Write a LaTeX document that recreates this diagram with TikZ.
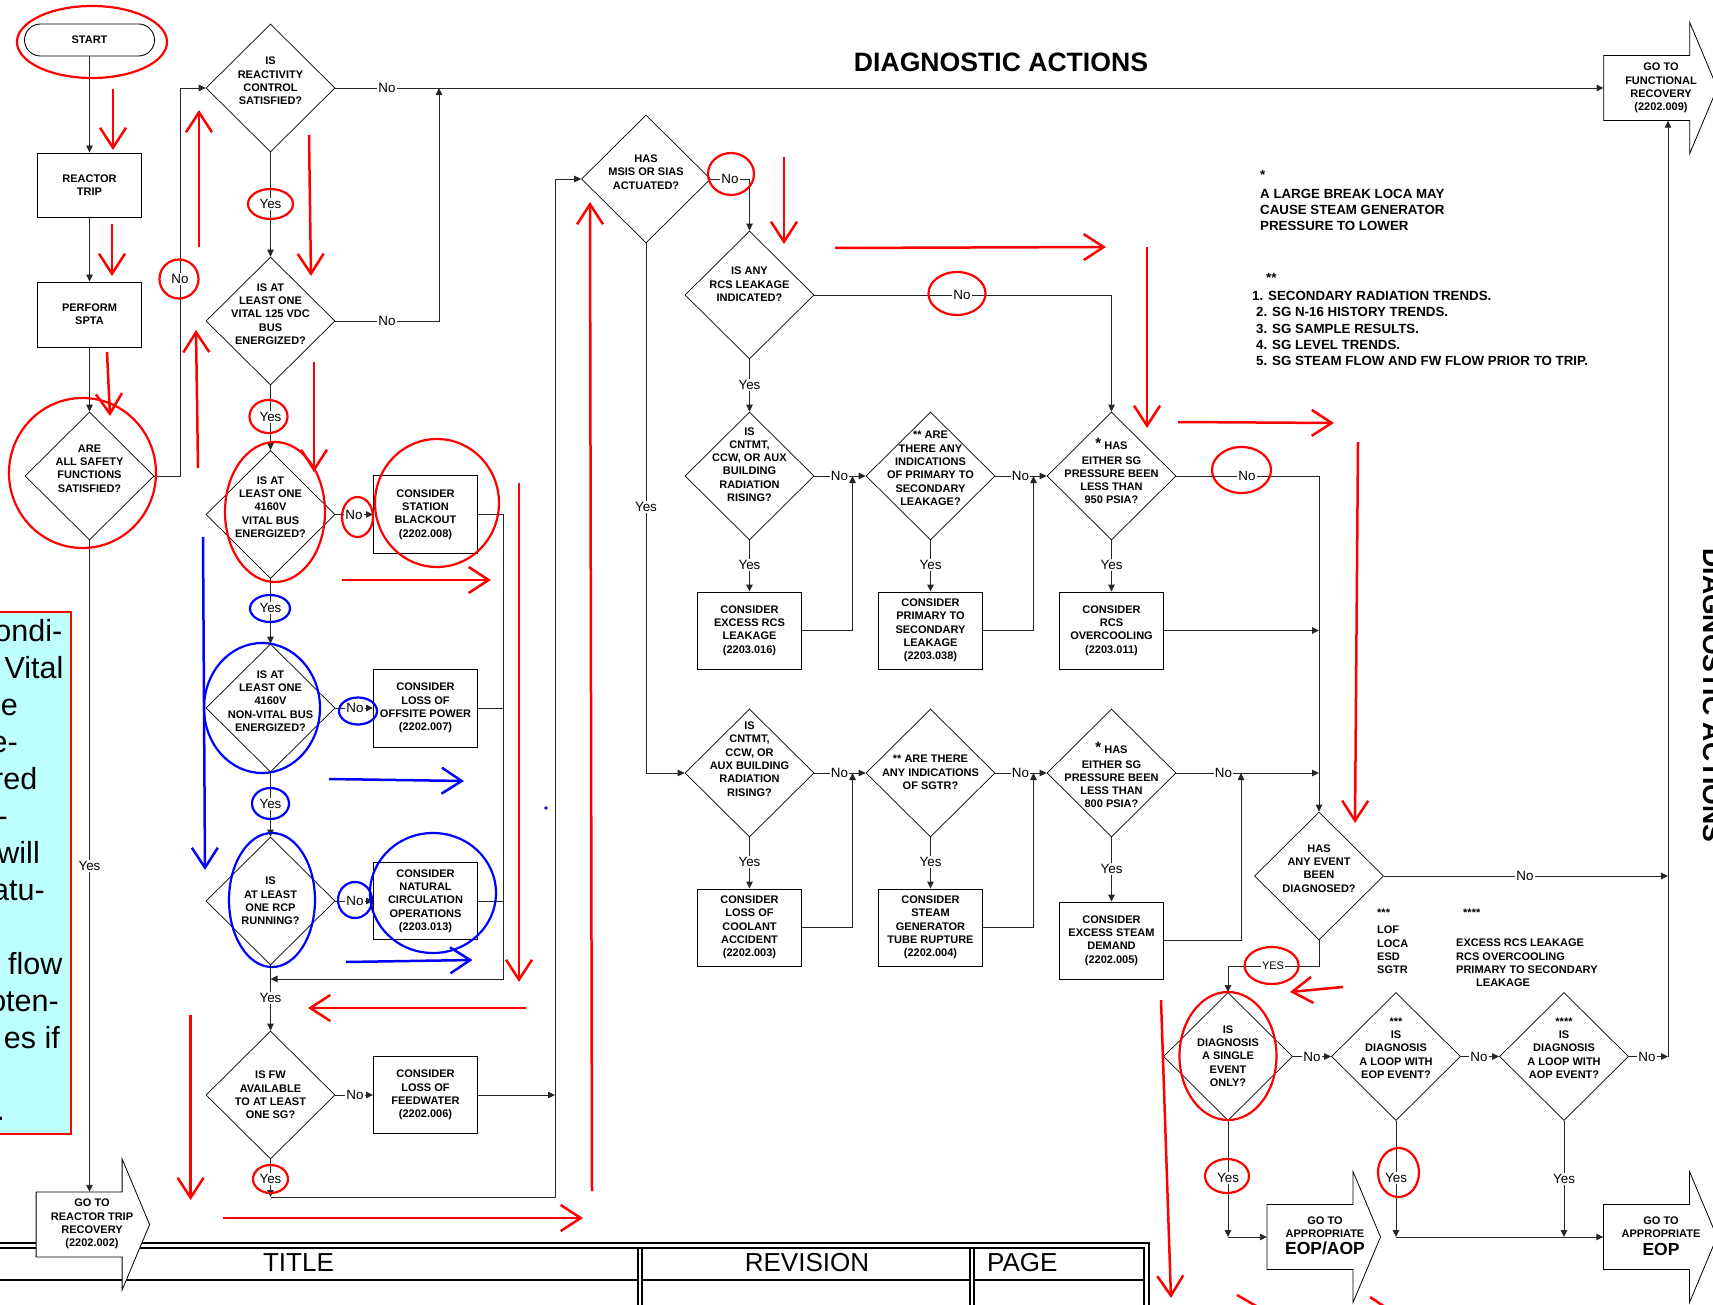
\documentclass[tikz,border=0pt]{standalone}
\usepackage{fontspec}
\setmainfont{Liberation Sans}
\usetikzlibrary{shapes.geometric,arrows.meta}
\newcommand\bxf{\fontsize{11}{13.3}\selectfont\bfseries}
\newcommand\lbf{\fontsize{13.4}{15}\selectfont}
\newcommand\ntf{\fontsize{13.3}{16.3}\selectfont\bfseries}
\newcommand\smf{\fontsize{11}{13.3}\selectfont\bfseries}
\newcommand\cyf{\fontsize{30.5}{37}\selectfont}
\newcommand\tbf{\fontsize{26}{30}\selectfont}
\newcommand\bigstar{\raisebox{1.5pt}{\fontsize{15}{15}\selectfont *}}
\definecolor{cyanbg}{RGB}{190,255,255}
\newcommand\goshape[3]{%
  \path[draw=black, fill=white, line width=0.8pt] ({#2-43},{#3-32.5}) -- ({#2+43},{#3-32.5}) -- ({#2+43},{#3-65.5}) -- ({#2+70.5},{#3}) -- ({#2+43},{#3+65.5}) -- ({#2+43},{#3+32.5}) -- ({#2-43},{#3+32.5}) -- cycle;
  \node[inner sep=0pt, minimum width=86pt, minimum height=65pt] (#1) at (#2,#3) {};
}
\begin{document}
\begin{tikzpicture}[x=1pt,y=-1pt,
  box/.style={draw=black, line width=0.9pt, fill=white, minimum width=104pt, minimum height=77pt, inner sep=0pt, align=center, font=\bxf},
  dia/.style={draw=black, diamond, line width=0.7pt, minimum width=129pt, minimum height=128pt, inner sep=0pt},
  dtx/.style={align=center, font=\bxf, inner sep=0pt},
  lab/.style={fill=white, inner sep=1pt, font=\lbf},
  con/.style={draw=black!85, line width=0.9pt},
  arr/.style={con, -{Triangle[length=7pt,width=6.5pt]}},
  rarr/.style={draw=red, line width=2.5pt, -{Straight Barb[length=20pt,width=26pt]}},
  barr/.style={draw=blue, line width=2.5pt, -{Straight Barb[length=20pt,width=26pt]}},
  rring/.style={draw=red, line width=2.2pt},
  bring/.style={draw=blue, line width=2.2pt},
  gotx/.style={align=center, font=\bxf, inner sep=0pt},
  note/.style={align=left, font=\ntf, inner sep=0pt, anchor=west},
  snote/.style={align=left, font=\smf, inner sep=0pt, anchor=west},
  tbl/.style={line width=1.3pt},
  cyt/.style={font=\cyf, inner sep=0pt, anchor=mid east}
]
\useasboundingbox (0,0) rectangle (1713,1305);

% ---------- cyan note box ----------
\path[fill=cyanbg, draw=red, line width=2.2pt] (-10,612) rectangle (71,1134);
\node[cyt] (c01) at (62.5,639) {ondi-};
\node[cyt] (c02) at (63.6,676) {Vital};
\node[cyt] (c03) at (18,713) {ne};
\node[cyt] (c04) at (18,750) {e-};
\node[cyt] (c05) at (37.5,787) {red};
\node[cyt] (c06) at (8,824) {-};
\node[cyt] (c07) at (40,861) {will};
\node[cyt] (c08) at (45,898) {atu-};
\node[cyt] (c10) at (62.5,972) {flow};
\node[cyt] (c11) at (59,1009) {oten-};
\node[cyt] (c12) at (60,1046) {es if};
\node[cyt] (c14) at (5,1118) {.};

% ---------- title table ----------
\draw[tbl] (-5,1243) -- (1149,1243) -- (1149,1310);
\draw[tbl] (-5,1248) -- (1144,1248) -- (1144,1310);
\draw[tbl] (638,1248) -- (638,1310);
\draw[tbl] (642,1248) -- (642,1310);
\draw[tbl] (970,1248) -- (970,1310);
\draw[tbl] (974,1248) -- (974,1310);
\draw[tbl] (-5,1280) -- (638,1280);
\draw[tbl] (642,1280) -- (970,1280);
\draw[tbl] (974,1280) -- (1144,1280);
\node[font=\tbf, inner sep=0pt] (ttl) at (298.5,1263) {TITLE};
\node[font=\tbf, inner sep=0pt] (rev) at (807,1263) {REVISION};
\node[font=\tbf, inner sep=0pt, anchor=west] (pag) at (987,1263) {PAGE};

% ---------- headings ----------
\node[font=\fontsize{26.6}{30}\selectfont\bfseries, inner sep=0pt] (hd) at (1001,62) {DIAGNOSTIC ACTIONS};
\node[font=\fontsize{26.6}{30}\selectfont\bfseries, inner sep=0pt, rotate=-90, anchor=base] (vhd) at (1703,695.5) {DIAGNOSTIC ACTIONS};

% ---------- notes ----------
\node[note] (n1s) at (1260,175) {*};
\node[note] (n1) at (1260,210) {A LARGE BREAK LOCA MAY\\CAUSE STEAM GENERATOR\\PRESSURE TO LOWER};
\node[note] (n2s) at (1266,278) {**};
\node[note] (n2) at (1252,328.5) {1. SECONDARY RADIATION TRENDS.\\\hspace*{4pt}2. SG N-16 HISTORY TRENDS.\\\hspace*{4pt}3. SG SAMPLE RESULTS.\\\hspace*{4pt}4. SG LEVEL TRENDS.\\\hspace*{4pt}5. SG STEAM FLOW AND FW FLOW PRIOR TO TRIP.};
\node[snote] (n3s) at (1377,913) {***};
\node[snote] (n3) at (1377,950) {LOF\\LOCA\\ESD\\SGTR};
\node[snote] (n4s) at (1463,913) {****};
\node[snote] (n4) at (1456,963) {EXCESS RCS LEAKAGE\\RCS OVERCOOLING\\PRIMARY TO SECONDARY\\\hspace*{20pt}LEAKAGE};

% ---------- go-to arrows ----------
\goshape{rtr}{79.1}{1224.5}
\node[gotx] (rtrt) at (92,1224) {GO TO\\REACTOR TRIP\\RECOVERY\\(2202.002)};
\goshape{fr}{1646.75}{88}
\node[gotx] (frt) at (1661,88) {GO TO\\FUNCTIONAL\\RECOVERY\\(2202.009)};
\goshape{ea}{1310}{1237}
\node[gotx] (eat) at (1325,1236) {GO TO\\APPROPRIATE\\[4pt]{\fontsize{17.5}{18}\selectfont EOP/AOP}};
\goshape{eop}{1646.5}{1237}
\node[gotx] (eopt) at (1661,1236) {GO TO\\APPROPRIATE\\[4pt]{\fontsize{17.5}{18}\selectfont EOP}};

% ---------- left column ----------
\node[draw=black, line width=0.9pt, rounded corners=16pt, minimum width=130pt, minimum height=32pt, font=\bxf, inner sep=0pt] (st) at (89.5,40) {START};
\node[box, minimum height=64pt] (rt) at (89.5,185) {REACTOR\\TRIP};
\node[box, minimum height=65pt] (sp) at (89.5,314.5) {PERFORM\\SPTA};
\node[dia] (sf) at (89.5,476) {};
\node[dtx] (sft) at (89.5,468.5) {ARE\\ALL SAFETY\\FUNCTIONS\\SATISFIED?};

% ---------- second column ----------
\node[dia] (d1) at (270.5,88) {};
\node[dtx] (d1t) at (270.5,81) {IS\\REACTIVITY\\CONTROL\\SATISFIED?};
\node[dia] (d2) at (270.5,321) {};
\node[dtx] (d2t) at (270.5,314) {IS AT\\LEAST ONE\\VITAL 125 VDC\\BUS\\ENERGIZED?};
\node[dia] (d3) at (270.5,514.5) {};
\node[dtx] (d3t) at (270.5,507) {IS AT\\LEAST ONE\\4160V\\VITAL BUS\\ENERGIZED?};
\node[dia] (d4) at (270.5,708) {};
\node[dtx] (d4t) at (270.5,701) {IS AT\\LEAST ONE\\4160V\\NON-VITAL BUS\\ENERGIZED?};
\node[dia] (d5) at (270.5,901) {};
\node[dtx] (d5t) at (270.5,901) {IS\\AT LEAST\\ONE RCP\\RUNNING?};
\node[dia] (d6) at (270.5,1095) {};
\node[dtx] (d6t) at (270.5,1095) {IS FW\\AVAILABLE\\TO AT LEAST\\ONE SG?};
\node[box, minimum height=78pt] (sbo) at (425.5,514.5) {CONSIDER\\STATION\\BLACKOUT\\(2202.008)};
\node[box, minimum height=78pt] (lop) at (425.5,708) {CONSIDER\\LOSS OF\\OFFSITE POWER\\(2202.007)};
\node[box] (nc) at (425.5,901) {CONSIDER\\NATURAL\\CIRCULATION\\OPERATIONS\\(2203.013)};
\node[box] (lfw) at (425.5,1095) {CONSIDER\\LOSS OF\\FEEDWATER\\(2202.006)};

% ---------- diagnostic block ----------
\node[dia] (msis) at (646,179) {};
\node[dtx] (msist) at (646,172) {HAS\\MSIS OR SIAS\\ACTUATED?};
\node[dia] (rcs) at (749.5,295) {};
\node[dtx] (rcst) at (749.5,284.5) {IS ANY\\RCS LEAKAGE\\INDICATED?};
\node[dia] (c1) at (749.5,476) {};
\node[dtx] (c1t) at (749.5,464.5) {IS\\CNTMT,\\CCW, OR AUX\\BUILDING\\RADIATION\\RISING?};
\node[dia] (pr) at (930.5,476) {};
\node[dtx] (prt) at (930.5,468.5) {** ARE\\THERE ANY\\INDICATIONS\\OF PRIMARY TO\\SECONDARY\\LEAKAGE?};
\node[dia] (p9) at (1111.5,476) {};
\node[dtx] (p9t) at (1111.5,471) {\bigstar\ HAS\\[1pt]EITHER SG\\PRESSURE BEEN\\LESS THAN\\950 PSIA?};
\node[box] (b1) at (749.5,630.5) {CONSIDER\\EXCESS RCS\\LEAKAGE\\(2203.016)};
\node[box] (b2) at (930.5,630.5) {CONSIDER\\PRIMARY TO\\SECONDARY\\LEAKAGE\\(2203.038)};
\node[box] (b3) at (1111.5,630.5) {CONSIDER\\RCS\\OVERCOOLING\\(2203.011)};
\node[dia] (c2) at (749.5,773) {};
\node[dtx] (c2t) at (749.5,759) {IS\\CNTMT,\\CCW, OR\\AUX BUILDING\\RADIATION\\RISING?};
\node[dia] (sg) at (930.5,773) {};
\node[dtx] (sgt) at (930.5,772.5) {** ARE THERE\\ANY INDICATIONS\\OF SGTR?};
\node[dia] (p8) at (1111.5,773) {};
\node[dtx] (p8t) at (1111.5,775) {\bigstar\ HAS\\[1pt]EITHER SG\\PRESSURE BEEN\\LESS THAN\\800 PSIA?};
\node[box] (b4) at (749.5,927.5) {CONSIDER\\LOSS OF\\COOLANT\\ACCIDENT\\(2202.003)};
\node[box] (b5) at (930.5,927.5) {CONSIDER\\STEAM\\GENERATOR\\TUBE RUPTURE\\(2202.004)};
\node[box] (b6) at (1111.5,940.5) {CONSIDER\\EXCESS STEAM\\DEMAND\\(2202.005)};
\node[dia] (ae) at (1319,876) {};
\node[dtx] (aet) at (1319,868.5) {HAS\\ANY EVENT\\BEEN\\DIAGNOSED?};
\node[dia] (se) at (1228,1056.5) {};
\node[dtx] (set) at (1228,1056) {IS\\DIAGNOSIS\\A SINGLE\\EVENT\\ONLY?};
\node[dia] (le) at (1396,1056.5) {};
\node[dtx] (let) at (1396,1048) {***\\IS\\DIAGNOSIS\\A LOOP WITH\\EOP EVENT?};
\node[dia] (la) at (1564,1056.5) {};
\node[dtx] (lat) at (1564,1048) {****\\IS\\DIAGNOSIS\\A LOOP WITH\\AOP EVENT?};

% ---------- helper coordinates ----------
\coordinate (lv) at (180,476);
\coordinate (lt) at (180,88);
\coordinate (nv) at (439,321);
\coordinate (nt) at (439,88);
\coordinate (j0) at (503.5,514.5);
\coordinate (j1) at (503.5,979);
\coordinate (j1e) at (270.5,979);
\coordinate (fwc) at (270.5,1197);
\coordinate (bl) at (555,1197);
\coordinate (bt) at (555,179);
\coordinate (u1) at (852.5,476);
\coordinate (u2) at (1033.5,476);
\coordinate (u3) at (852.5,773);
\coordinate (u4) at (1033.5,773);
\coordinate (u5) at (1241,773);
\coordinate (ye) at (1319,966);
\coordinate (s1) at (1228,1237);
\coordinate (s2) at (1396,1237);
\coordinate (s3) at (1564,1237);
\coordinate (vr) at (1668,1056.5);

% ---------- connectors ----------
\draw[arr] (st) -- (rt);
\draw[arr] (rt) -- (sp);
\draw[arr] (sp) -- (sf);
\draw[arr] (sf.south) -- (sf.south |- rtr.north);
\draw[arr] (sf.east) -- (lv) -- (lt) -- (d1.west);
\draw[arr] (d1.east) -- (fr.west);
\draw[arr] (d1) -- (d2);
\draw[arr] (d2.east) -- (nv) -- (nt);
\draw[arr] (d2) -- (d3);
\draw[arr] (d3) -- (sbo);
\draw[con] (sbo.east) -- (j0) -- (j1);
\draw[arr] (j1) -- (j1e);
\draw[arr] (d3) -- (d4);
\draw[arr] (d4) -- (lop);
\draw[con] (lop.east) -- (lop.east -| j1);
\draw[arr] (d4) -- (d5);
\draw[arr] (d5) -- (nc);
\draw[con] (nc.east) -- (nc.east -| j1);
\draw[arr] (d5) -- (d6);
\draw[arr] (d6) -- (lfw);
\draw[arr] (lfw.east) -- (lfw.east -| bl);
\draw[arr] (d6.south) -- (fwc);
\draw[arr] (fwc) -- (bl) -- (bt) -- (msis.west);
\draw[arr] (msis.east) -| (rcs.north);
\draw[arr] (msis.south) |- (c2.west);
\draw[arr] (rcs.east) -| (p9.north);
\draw[arr] (rcs) -- (c1);
\draw[arr] (c1) -- (pr);
\draw[arr] (c1) -- (b1);
\draw[arr] (b1.east) -| (u1);
\draw[arr] (pr) -- (p9);
\draw[arr] (pr) -- (b2);
\draw[arr] (b2.east) -| (u2);
\draw[arr] (p9.east) -| (ae.north);
\draw[arr] (p9) -- (b3);
\draw[arr] (b3.east) -- (b3.east -| ae.north);
\draw[arr] (c2) -- (sg);
\draw[arr] (c2) -- (b4);
\draw[arr] (b4.east) -| (u3);
\draw[arr] (sg) -- (p8);
\draw[arr] (sg) -- (b5);
\draw[arr] (b5.east) -| (u4);
\draw[arr] (p8.east) -- (p8.east -| ae.north);
\draw[arr] (p8) -- (b6);
\draw[arr] (b6.east) -| (u5);
\draw[arr] (ae.east) -- (ae.east -| vr);
\draw[arr] (ae.south) -- (ye) -| (se.north);
\draw[arr] (se) -- (le);
\draw[arr] (se.south) -- (s1);
\draw[arr] (s1) -- (s1 -| ea.west);
\draw[arr] (le) -- (la);
\draw[arr] (le.south) -- (s2);
\draw[arr] (s2) -- (s2 -| eop.west);
\draw[arr] (la.south) -- (s3);
\draw[arr] (la.east) -- (vr);
\draw[arr] (vr) -- (vr |- fr.south);

% ---------- labels ----------
\node[lab] (l01) at (387,88) {No};
\node[lab] (l02) at (270.5,204) {Yes};
\node[lab] (l03) at (180,279) {No};
\node[lab] (l04) at (387,321) {No};
\node[lab] (l05) at (270.5,417) {Yes};
\node[lab] (l06) at (354,514.5) {No};
\node[lab] (l07) at (270.5,608) {Yes};
\node[lab] (l08) at (355,708) {No};
\node[lab] (l09) at (270.5,804) {Yes};
\node[lab] (l10) at (355,901) {No};
\node[lab] (l11) at (270.5,998) {Yes};
\node[lab] (l12) at (355,1095) {No};
\node[lab] (l13) at (270.5,1179) {Yes};
\node[lab] (l14) at (89.5,866) {Yes};
\node[lab] (l15) at (730,179) {No};
\node[lab] (l16) at (646,507) {Yes};
\node[lab] (l17) at (962,295) {No};
\node[lab] (l18) at (749.5,385) {Yes};
\node[lab] (l19) at (839.5,476) {No};
\node[lab] (l20) at (749.5,565) {Yes};
\node[lab] (l21) at (1020.5,476) {No};
\node[lab] (l22) at (930.5,565) {Yes};
\node[lab] (l23) at (1247,476) {No};
\node[lab] (l24) at (1111.5,565) {Yes};
\node[lab] (l25) at (839.5,773) {No};
\node[lab] (l26) at (749.5,862) {Yes};
\node[lab] (l27) at (1020.5,773) {No};
\node[lab] (l28) at (930.5,862) {Yes};
\node[lab] (l29) at (1223.5,773) {No};
\node[lab] (l30) at (1111.5,869) {Yes};
\node[lab] (l31) at (1525,876) {No};
\node[lab, font=\fontsize{11}{13}\selectfont] (l32) at (1273,966) {YES};
\node[lab] (l33) at (1312,1056.5) {No};
\node[lab] (l34) at (1228,1178) {Yes};
\node[lab] (l35) at (1479,1056.5) {No};
\node[lab] (l36) at (1396,1178) {Yes};
\node[lab] (l37) at (1647,1056.5) {No};
\node[lab] (l38) at (1564,1179) {Yes};

% ---------- red annotations ----------
\draw[rring] (92,42) ellipse [x radius=75pt, y radius=36pt];
\draw[rring] (82.5,473) ellipse [x radius=73.5pt, y radius=75pt];
\draw[rring] (179,279) ellipse [x radius=19.5pt, y radius=19.5pt];
\draw[rring] (270.5,204) ellipse [x radius=22.5pt, y radius=15pt];
\draw[rring] (268.5,416.5) ellipse [x radius=19pt, y radius=16.5pt];
\draw[rring] (275,512) ellipse [x radius=50pt, y radius=70pt];
\draw[rring] (357.5,517) ellipse [x radius=15.5pt, y radius=20pt];
\draw[rring] (437,503) ellipse [x radius=62pt, y radius=64pt];
\draw[rring] (270.5,1179) ellipse [x radius=17.5pt, y radius=14pt];
\draw[rring] (731,174) ellipse [x radius=23pt, y radius=21pt];
\draw[rring] (957,293.5) ellipse [x radius=28.5pt, y radius=21.5pt];
\draw[rring] (1241.5,470) ellipse [x radius=29.5pt, y radius=23pt];
\draw[rring] (1271.6,965.5) ellipse [x radius=27pt, y radius=18.5pt];
\draw[rring] (1228,1056) ellipse [x radius=48.5pt, y radius=64pt];
\draw[rring] (1227,1176) ellipse [x radius=22pt, y radius=17pt];
\draw[rring] (1398.5,1172.5) ellipse [x radius=20.5pt, y radius=24.5pt];

\coordinate (ra1) at (113,89);    \coordinate (rb1) at (113,150);
\coordinate (ra2) at (112,224);   \coordinate (rb2) at (112,276);
\coordinate (ra3) at (107,352);   \coordinate (rb3) at (110,416);
\coordinate (ra4) at (199,247);   \coordinate (rb4) at (199,110);
\coordinate (ra5) at (198,468);   \coordinate (rb5) at (196,330);
\coordinate (ra6) at (309,135);   \coordinate (rb6) at (311,276);
\coordinate (ra7) at (314,362);   \coordinate (rb7) at (314,472);
\coordinate (ra8) at (342,580);   \coordinate (rb8) at (491,580);
\coordinate (ra9) at (519,483);   \coordinate (rb9) at (519,982);
\coordinate (ra10) at (526,1008); \coordinate (rb10) at (308,1008);
\coordinate (ra11) at (190.6,1015); \coordinate (rb11) at (190.6,1200);
\coordinate (ra12) at (222.6,1218); \coordinate (rb12) at (583,1218);
\coordinate (ra13) at (592,1191); \coordinate (rb13) at (590,202);
\coordinate (ra14) at (784,157);  \coordinate (rb14) at (784,244);
\coordinate (ra15) at (835,248);  \coordinate (rb15) at (1106,247);
\coordinate (ra16) at (1147,247); \coordinate (rb16) at (1147,428);
\coordinate (ra17) at (1178,422); \coordinate (rb17) at (1334,423);
\coordinate (ra18) at (1358,442); \coordinate (rb18) at (1355,823);
\coordinate (ra19) at (1343,987); \coordinate (rb19) at (1290,992);
\coordinate (ra20) at (1161,1000); \coordinate (rb20) at (1171,1298);
\foreach \i in {1,...,20} { \draw[rarr] (ra\i) -- (rb\i); }
\draw[red, line width=2.5pt] (1237,1295) -- (1258,1307);
\draw[red, line width=2.5pt] (1370,1297) -- (1385,1307);

% ---------- blue annotations ----------
\draw[bring] (270,608.5) ellipse [x radius=20pt, y radius=13.5pt];
\draw[bring] (262,708) ellipse [x radius=58pt, y radius=65pt];
\draw[bring] (358,711) ellipse [x radius=19pt, y radius=13.5pt];
\draw[bring] (270.5,803.5) ellipse [x radius=18.5pt, y radius=15.5pt];
\draw[bring] (272,900) ellipse [x radius=43pt, y radius=67pt];
\draw[bring] (355,900) ellipse [x radius=17pt, y radius=18pt];
\draw[bring] (433,893) ellipse [x radius=63pt, y radius=60pt];
\coordinate (ba1) at (329,779);  \coordinate (bb1) at (464,781);
\coordinate (ba2) at (346,962);  \coordinate (bb2) at (472.5,960);
\coordinate (ba3) at (203,537);  \coordinate (bb3) at (205,870);
\foreach \i in {1,2,3} { \draw[barr] (ba\i) -- (bb\i); }
\fill[blue] (546,808) circle [radius=1.8pt];
\end{tikzpicture}
\end{document}
